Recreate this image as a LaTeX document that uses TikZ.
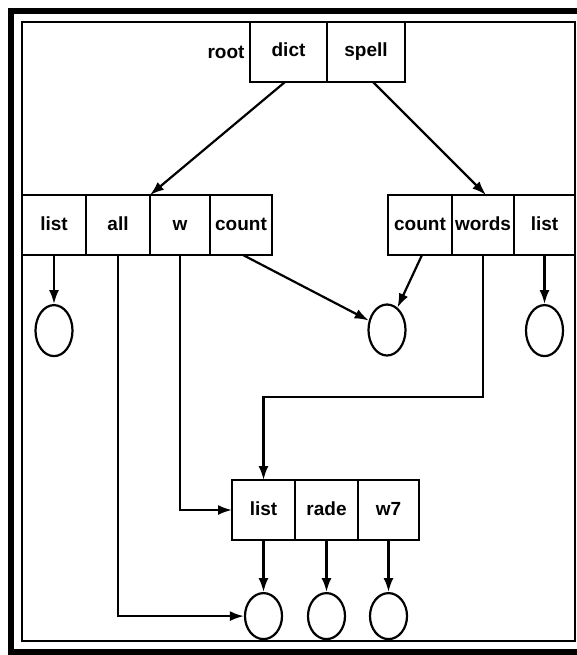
\documentclass[tikz,border=0pt]{standalone}
\usepackage{fontspec}
\setmainfont{Liberation Sans}
\usepackage{tikz}
\usetikzlibrary{arrows.meta,positioning,shapes.geometric}
\tikzset{
  cell/.style={draw, line width=2.2pt, minimum height=60pt, inner sep=0pt, outer sep=0pt,
               text height=14pt, text depth=4pt, font=\fontsize{19}{22}\selectfont\bfseries},
  leaf/.style={draw, line width=2.2pt, ellipse, minimum width=37pt, minimum height=51pt},
  link/.style={-{Latex[length=14pt,width=10pt]}, line width=2.2pt}
}

\begin{document}
\begin{tikzpicture}[x=1pt, y=-1pt]
  \useasboundingbox (0,0) rectangle (577,655);
  \draw[line width=6pt] (11,11) rectangle (590,652);
  \draw[line width=2.8pt] (22,22) rectangle (575,641);

  \node[cell, minimum width=77pt] (dict) at (288.5,52) {dict};
  \node[cell, minimum width=78pt, right=0pt of dict] (spell) {spell};
  \node[left=2pt of dict, font=\fontsize{19}{22}\selectfont\bfseries] (root) {root};

  \node[cell, minimum width=64pt] (llist) at (54,225) {list};
  \node[cell, minimum width=64pt, right=0pt of llist] (all) {all};
  \node[cell, minimum width=60pt, right=0pt of all] (w) {w};
  \node[cell, minimum width=62pt, right=0pt of w] (lcount) {count};

  \node[cell, minimum width=64pt] (rcount) at (420,225) {count};
  \node[cell, minimum width=62pt, right=0pt of rcount] (words) {words};
  \node[cell, minimum width=61pt, right=0pt of words] (rlist) {list};

  \node[cell, minimum width=63pt] (blist) at (263.5,510) {list};
  \node[cell, minimum width=63pt, right=0pt of blist] (rade) {rade};
  \node[cell, minimum width=61pt, right=0pt of rade] (w7) {w7};

  \node[leaf, below=49pt of llist] (c1) {};
  \node[leaf] (c2) at (387,330) {};
  \node[leaf, below=49pt of rlist] (c3) {};
  \node[leaf, minimum height=46pt, below=52pt of blist] (b1) {};
  \node[leaf, minimum height=46pt, below=52pt of rade] (b2) {};
  \node[leaf, minimum height=46pt, below=52pt of w7] (b3) {};

  \coordinate[below=142pt of words.south] (turn);

  \draw[link] ([xshift=35pt]dict.south west) -- (all.north east);
  \draw[link] ([xshift=46pt]spell.south west) -- ([xshift=34pt]words.north west);
  \draw[link] (llist.south) -- (c1);
  \draw[link] ([xshift=33pt]lcount.south west) -- (c2);
  \draw[link] ([xshift=34pt]rcount.south west) -- (c2);
  \draw[link] (rlist.south) -- (c3);
  \draw[link] (all.south) |- (b1);
  \draw[link] (w.south) |- (blist.west);
  \draw[link] (words.south) -- (turn) -| (blist.north);
  \draw[link] (blist.south) -- (b1);
  \draw[link] (rade.south) -- (b2);
  \draw[link] (w7.south) -- (b3);
\end{tikzpicture}
\end{document}
